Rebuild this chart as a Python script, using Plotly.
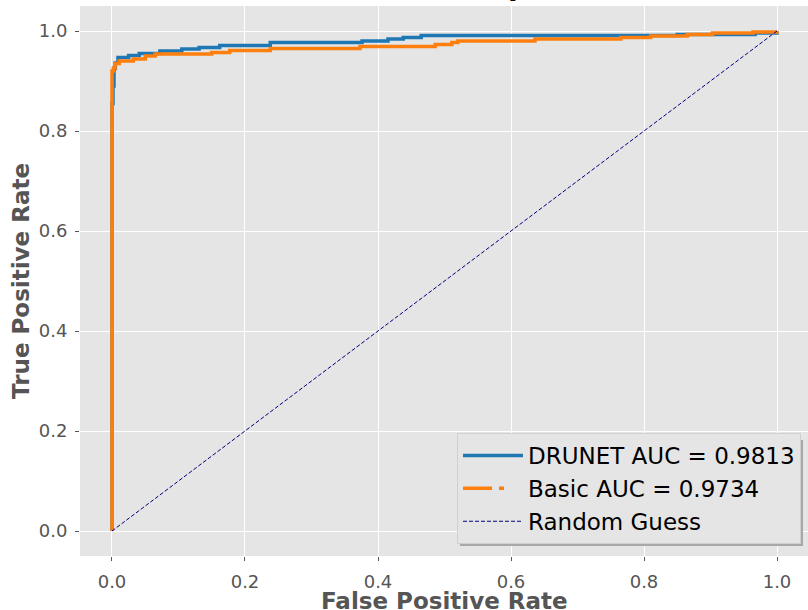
import plotly.graph_objects as go

# ---- data ----
drunet_fpr = [0, 0, 0.0015, 0.003, 0.005, 0.009, 0.025, 0.041, 0.072, 0.105, 0.131, 0.162,
              0.238, 0.376, 0.415, 0.438, 0.465, 0.85, 0.967, 1.0]
drunet_tpr = [0, 0.855, 0.89, 0.925, 0.936, 0.947, 0.951, 0.955, 0.960, 0.964, 0.967, 0.971,
              0.977, 0.980, 0.984, 0.987, 0.991, 0.993, 0.996, 1.0]

basic_fpr = [0, 0, 0.002, 0.0045, 0.011, 0.032, 0.05, 0.065, 0.15, 0.177, 0.238, 0.373,
             0.486, 0.511, 0.52, 0.636, 0.765, 0.81, 0.865, 0.903, 0.964, 1.0]
basic_tpr = [0, 0.92, 0.926, 0.935, 0.940, 0.944, 0.950, 0.954, 0.957, 0.961, 0.965, 0.969,
             0.973, 0.977, 0.980, 0.984, 0.987, 0.990, 0.993, 0.996, 0.998, 1.0]

random_x = [0, 1]
random_y = [0, 1]

names = ["DRUNET AUC = 0.9813", "Basic AUC = 0.9734", "Random Guess"]
tick_vals = [0.0, 0.2, 0.4, 0.6, 0.8, 1.0]
tick_text = ["0.0", "0.2", "0.4", "0.6", "0.8", "1.0"]
title_text = "ROC Curve Comparison"
x_title = "False Positive Rate"
y_title = "True Positive Rate"

FONT = "DejaVu Sans"
W, H = 808, 610
ML, MR, MT, MB = 80, 0, 6, 54
PW, PH = W - ML - MR, H - MT - MB


def px_x(p):
    return (p - ML) / PW


def px_y(p):
    return (H - MB - p) / PH


fig = go.Figure()
fig.add_trace(go.Scatter(x=drunet_fpr, y=drunet_tpr, mode="lines", line_shape="hv",
                         name=names[0], legendgroup="a",
                         line=dict(color="#1f77b4", width=3.5)))
fig.add_trace(go.Scatter(x=basic_fpr, y=basic_tpr, mode="lines", line_shape="hv",
                         name=names[1], legendgroup="b", showlegend=False,
                         line=dict(color="#ff7f0e", width=3.5)))
# legend entry for the Basic curve (dash-dot symbol as in the reference legend)
fig.add_trace(go.Scatter(x=[None], y=[None], mode="lines",
                         name=names[1], legendgroup="b",
                         line=dict(color="#ff7f0e", width=3.5, dash="29px,7px,5px,30px")))
fig.add_trace(go.Scatter(x=random_x, y=random_y, mode="lines",
                         name=names[2], legendgroup="c",
                         line=dict(color="#000080", width=1, dash="4px,2px")))

axis_common = dict(
    showgrid=True, gridcolor="white", gridwidth=1, zeroline=False, showline=False,
    ticks="outside", ticklen=4, tickcolor="#555555", tickwidth=1,
    tickvals=tick_vals, ticktext=tick_text, automargin=False,
    tickfont=dict(family=FONT, size=18, color="#555555"),
)

fig.update_layout(
    width=W, height=H,
    margin=dict(l=ML, r=MR, t=MT, b=MB, autoexpand=False),
    paper_bgcolor="white", plot_bgcolor="#E5E5E5",
    font=dict(family=FONT, color="#555555"),
    xaxis=dict(range=[-0.0481, 1.0466], ticklabelstandoff=5, **axis_common),
    yaxis=dict(range=[-0.05, 1.05], ticklabelstandoff=4, **axis_common),
    legend=dict(x=px_x(801), xanchor="right", y=px_y(544), yanchor="bottom",
                bgcolor="#E5E5E5", bordercolor="#D0D0D0", borderwidth=1,
                traceorder="grouped", tracegroupgap=0,
                itemwidth=60,
                font=dict(family=FONT, size=23, color="black")),
    showlegend=True,
)

# legend shadow
fig.add_shape(type="rect", xref="paper", yref="paper", layer="above",
              x0=px_x(460), x1=px_x(803), y0=px_y(546), y1=px_y(440),
              fillcolor="#a8a8a8", line=dict(width=0))

fig.add_annotation(text="<b>" + title_text + "</b>", xref="paper", yref="paper",
                   x=0.5, y=1, xanchor="center", yanchor="bottom", yshift=2,
                   showarrow=False, font=dict(family=FONT, size=28, color="black"))
fig.add_annotation(text="<b>" + x_title + "</b>", xref="paper", yref="paper",
                   x=0.5, y=0, xanchor="center", yanchor="top", yshift=-30,
                   showarrow=False, font=dict(family=FONT, size=23, color="#555555"))
fig.add_annotation(text="<b>" + y_title + "</b>", xref="paper", yref="paper",
                   x=px_x(21), y=0.5, xanchor="center", yanchor="middle",
                   textangle=-90, showarrow=False,
                   font=dict(family=FONT, size=23, color="#555555"))

fig.write_html("out.html", config={"displayModeBar": False},
               post_script="document.body.style.margin='0';document.body.style.overflow='hidden';")
